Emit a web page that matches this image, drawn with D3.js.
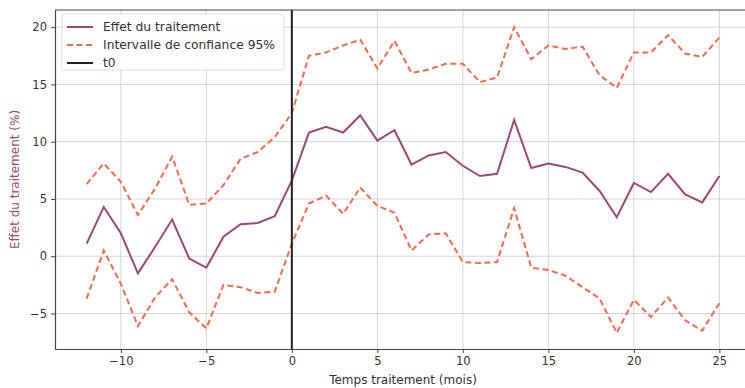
<!DOCTYPE html>
<html>
<head>
<meta charset="utf-8">
<script src="https://cdn.jsdelivr.net/npm/d3@7"></script>
<style>
  body { margin: 0; background: #fff; }
  svg text { font-family: "DejaVu Sans", sans-serif; }
</style>
</head>
<body>
<div id="plot1"></div>
<script>
// Data
const months = d3.range(-12, 26);
const effect = [1.1, 4.3, 2.0, -1.5, 0.8, 3.2, -0.2, -1.0, 1.7, 2.8, 2.9, 3.5,
  6.6, 10.8, 11.3, 10.8, 12.3, 10.1, 11.0, 8.0, 8.8, 9.1, 7.9, 7.0, 7.2, 11.9,
  7.7, 8.1, 7.8, 7.3, 5.7, 3.4, 6.4, 5.6, 7.2, 5.4, 4.7, 7.0];
const upper = [6.3, 8.1, 6.5, 3.6, 5.9, 8.7, 4.5, 4.6, 6.2, 8.5, 9.1, 10.4,
  12.5, 17.5, 17.8, 18.4, 18.9, 16.4, 18.8, 16.0, 16.3, 16.8, 16.8, 15.2, 15.6, 20.0,
  17.2, 18.4, 18.1, 18.3, 15.8, 14.7, 17.8, 17.8, 19.3, 17.7, 17.4, 19.1];
const lower = [-3.7, 0.5, -2.4, -6.1, -3.6, -2.0, -4.9, -6.3, -2.5, -2.7, -3.2, -3.1,
  1.1, 4.6, 5.3, 3.7, 6.0, 4.4, 3.8, 0.5, 1.9, 2.0, -0.5, -0.6, -0.5, 4.2,
  -1.0, -1.2, -1.7, -2.7, -3.7, -6.7, -3.8, -5.3, -3.6, -5.6, -6.5, -4.1];
const xTicks = [-10, -5, 0, 5, 10, 15, 20, 25];
const yTicks = [-5, 0, 5, 10, 15, 20];
const legendLabels = ["Effet du traitement", "Intervalle de confiance 95%", "t0"];

const W = 745, H = 388;
const margin = { top: 10, right: -6, bottom: 39, left: 55 };
const width = W - margin.left - margin.right;
const height = H - margin.top - margin.bottom;

const purple = "#9c4a72";
const orange = "#f4694f";

const svg = d3.select("#plot1").append("svg")
  .attr("width", W).attr("height", H);

const g = svg.append("g")
  .attr("transform", `translate(${margin.left},${margin.top})`);

const x = d3.scaleLinear().domain([-13.85, 26.85]).range([0, width]);
const y = d3.scaleLinear().domain([-8.1, 21.5]).range([height, 0]);

// grid
g.append("g").selectAll("line").data(xTicks).join("line")
  .attr("x1", d => x(d)).attr("x2", d => x(d))
  .attr("y1", 0).attr("y2", height)
  .attr("stroke", "#d5d5d8").attr("stroke-width", 1);
g.append("g").selectAll("line").data(yTicks).join("line")
  .attr("x1", 0).attr("x2", width)
  .attr("y1", d => y(d)).attr("y2", d => y(d))
  .attr("stroke", "#d5d5d8").attr("stroke-width", 1);

// axes
const minus = d => d < 0 ? "\u2212" + Math.abs(d) : d;
const xAxis = g.append("g")
  .attr("transform", `translate(0,${height})`)
  .call(d3.axisBottom(x).tickValues(xTicks).tickSizeInner(4).tickSizeOuter(0)
    .tickPadding(4).tickFormat(minus));
const yAxis = g.append("g")
  .call(d3.axisLeft(y).tickValues(yTicks).tickSizeInner(4).tickSizeOuter(0)
    .tickPadding(4).tickFormat(minus));
[xAxis, yAxis].forEach(a => {
  a.select(".domain").attr("stroke", "#444").attr("stroke-width", 1.2);
  a.selectAll(".tick line").attr("stroke", "#444");
  a.selectAll("text").attr("fill", "#333").style("font-size", "11.5px");
});
g.append("line").attr("x1", 0).attr("x2", width).attr("y1", 0).attr("y2", 0)
  .attr("stroke", "#444").attr("stroke-width", 1.2);

// lines
const line = vals => d3.line()
  .x((d, i) => x(months[i]))
  .y(d => y(d))(vals);

g.append("path").attr("d", line(upper)).attr("fill", "none")
  .attr("stroke", orange).attr("stroke-width", 2).attr("stroke-dasharray", "6,3.5");
g.append("path").attr("d", line(lower)).attr("fill", "none")
  .attr("stroke", orange).attr("stroke-width", 2).attr("stroke-dasharray", "6,3.5");
g.append("path").attr("d", line(effect)).attr("fill", "none")
  .attr("stroke", purple).attr("stroke-width", 2);

// t0
g.append("line").attr("x1", x(0)).attr("x2", x(0)).attr("y1", 0).attr("y2", height)
  .attr("stroke", "#222").attr("stroke-width", 2);

// labels
svg.append("text")
  .attr("x", margin.left + x(6.5)).attr("y", H - 4)
  .attr("text-anchor", "middle").attr("fill", "#333").style("font-size", "12px")
  .text("Temps traitement (mois)");
svg.append("text")
  .attr("transform", `translate(19,${margin.top + height / 2}) rotate(-90)`)
  .attr("text-anchor", "middle").attr("fill", purple).style("font-size", "12px")
  .text("Effet du traitement (%)");

// legend
const legend = g.append("g").attr("transform", "translate(7,4)");
legend.append("rect").attr("width", 222).attr("height", 56).attr("rx", 3)
  .attr("fill", "#fff").attr("fill-opacity", 0.85).attr("stroke", "#ddd");
const styles = [
  { stroke: purple, dash: null },
  { stroke: orange, dash: "6,3.5" },
  { stroke: "#222", dash: null }
];
legendLabels.forEach((t, i) => {
  const row = legend.append("g").attr("transform", `translate(0,${13 + i * 18})`);
  row.append("line").attr("x1", 5).attr("x2", 31).attr("y1", 0).attr("y2", 0)
    .attr("stroke", styles[i].stroke).attr("stroke-width", 2)
    .attr("stroke-dasharray", styles[i].dash);
  row.append("text").attr("x", 41).attr("y", 0).attr("dy", "0.35em")
    .attr("fill", "#333").style("font-size", "12.3px").text(t);
});
</script>
</body>
</html>
